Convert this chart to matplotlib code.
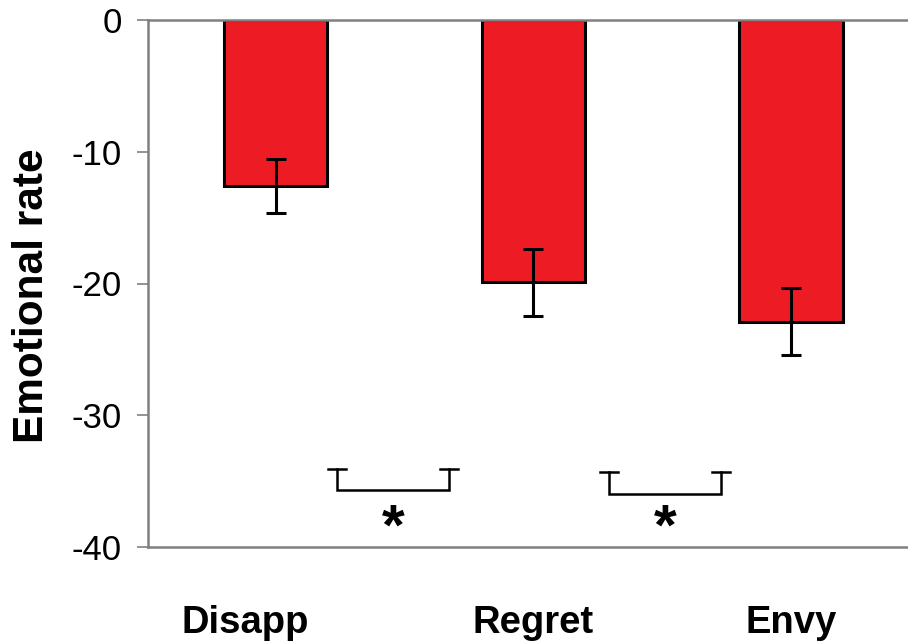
import numpy as np
import matplotlib
matplotlib.use('Agg')
from matplotlib import pyplot as plt
from matplotlib import transforms

plt.rcParams['font.family'] = ['Liberation Sans', 'DejaVu Sans']

# data
categories = ['Disapp', 'Regret', 'Envy']
means = [-12.6, -19.9, -22.9]
errors = [2.05, 2.55, 2.55]
yticks = [0, -10, -20, -30, -40]
# significant pairs (index of bars) shown with brackets
sig_pairs = [(0, 1), (1, 2)]
sig_labels = ['*', '*']

red = '#ED1C24'
grey = '#808080'

fig = plt.figure(figsize=(9.08, 6.44), dpi=100)
ax = fig.add_axes([148 / 908, 97 / 644, 1 - 148 / 908, 527 / 644])

x = np.arange(len(categories))
ax.bar(x, means, width=0.40, color=red, edgecolor='black', linewidth=2.2, zorder=2)
ax.errorbar(x, means, yerr=errors, fmt='none', ecolor='black', elinewidth=2.2,
            capsize=7, capthick=2.2, zorder=3)

# brackets between neighbouring bars
bracket_offsets = [(0.239, 0.673, -34.05, -35.7), (0.294, 0.728, -34.3, -35.95)]
for (a, b), lab, (l, r, top, bot) in zip(sig_pairs, sig_labels, bracket_offsets):
    x0, x1 = a + l, a + r
    ax.plot([x0, x0, x1, x1], [top, bot, bot, top], color='black', lw=1.8,
            solid_joinstyle='miter', zorder=3)
    for xc in (x0, x1):
        ax.plot([xc - 0.035, xc + 0.035], [top, top], color='black', lw=1.8, zorder=3)
    ax.text((x0 + x1) / 2, -38.7, lab, ha='center', va='center',
            fontsize=42, fontweight='bold')

ax.set_xlim(-0.495, 2.454)
ax.set_ylim(-40, 0)
ax.set_yticks(yticks)
ax.set_yticklabels([str(t) for t in yticks], fontsize=25)
ax.tick_params(axis='y', length=8, width=1.2, color=grey, pad=11)
ax.set_xticks(x)
ax.set_xticklabels(categories, fontsize=27.5, fontweight='bold')
ax.tick_params(axis='x', length=0, pad=42)

# the first category label sits left of its bar in the reference
lbl = ax.get_xticklabels()[0]
lbl.set_transform(lbl.get_transform() + transforms.ScaledTranslation(-0.30, 0, fig.dpi_scale_trans))

for side in ['left', 'top', 'bottom']:
    ax.spines[side].set_color(grey)
    ax.spines[side].set_linewidth(1.8)
ax.spines['right'].set_visible(False)

fig.text(32 / 908, 1 - 296 / 644, 'Emotional rate', rotation=90, ha='center',
         va='center', fontsize=30.5, fontweight='bold')

plt.savefig('out.png', dpi=100)
